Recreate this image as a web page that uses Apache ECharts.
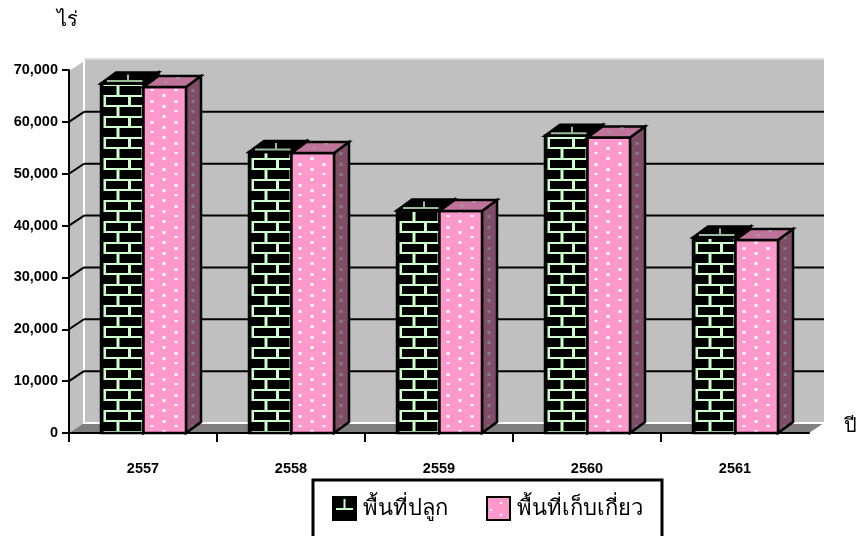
<!DOCTYPE html>
<html><head><meta charset="utf-8">
<style>html,body{margin:0;padding:0;background:#fff;overflow:hidden}#c{width:860px;height:536px}</style>
<script src="https://cdn.jsdelivr.net/npm/echarts@6/dist/echarts.min.js"></script>
</head><body><div id="c"></div>
<script>
const categories = ['2557','2558','2559','2560','2561'];
const plantedArea = [67400,54200,42900,57300,37700];
const harvestedArea = [66700,54000,42800,57000,37200];
const yTicks = [0,10000,20000,30000,40000,50000,60000,70000];
const seriesNames = ['พื้นที่ปลูก','พื้นที่เก็บเกี่ยว'];
const yUnit = 'ไร่';
const xUnit = 'ปี';

const DX = 15, DY = -10, BAR_W = 42.5;

function tile(w,h,draw){const c=document.createElement('canvas');c.width=w;c.height=h;draw(c.getContext('2d'));return {image:c,repeat:'repeat'};}
const brick = tile(25,21,g=>{
  g.fillStyle='#000';g.fillRect(0,0,25,21);
  g.fillStyle='#ccffcc';
  g.fillRect(0,8,25,2);g.fillRect(0,19,25,2);
  g.fillRect(15.5,10,3,9);
  g.fillRect(2,0,3,8);
});
const dots = tile(24,21,g=>{
  g.fillStyle='#ff99cc';g.fillRect(0,0,24,21);
  g.fillStyle='#fff';
  g.fillRect(7,3,3,3);g.fillRect(7,13,3,2);
  g.fillRect(19,18,3,3);g.fillRect(19,8,3,3);
});
const sideDots = tile(15,21,g=>{
  g.fillStyle='#804d66';g.fillRect(0,0,15,21);
  g.fillStyle='#808080';g.fillRect(3,3,3,3);g.fillRect(3,13,3,3);g.fillRect(12,8,2,3);g.fillRect(12,18,2,3);
});
const legendBrick = tile(23,23,g=>{
  g.fillStyle='#000';g.fillRect(0,0,23,23);
  g.fillStyle='#ccffcc';g.fillRect(3,11,17,2);g.fillRect(10.5,2,2,9);
});
const legendDots = tile(23,23,g=>{
  g.fillStyle='#ff99cc';g.fillRect(0,0,23,23);
  g.fillStyle='#fff';g.fillRect(13,5,2,2);g.fillRect(3,12,2,2);g.fillRect(13,17,2,2);
});

function poly(points,fill,extra){
  return {type:'polygon',shape:{points},style:Object.assign({fill,stroke:'#000',lineWidth:2.5,lineJoin:'miter'},extra||{})};
}
function barRender(isFirst){
  return function(params,api){
    const p0=api.coord([api.value(0),0]), p1=api.coord([api.value(0),api.value(1)]);
    const w=BAR_W, left=isFirst?p0[0]-w+0.5:p0[0]+0.5;
    const h=p0[1]-p1[1], dx=DX, dy=-11;
    const kids=[];
    if(isFirst){
      kids.push(poly([[w,0],[w+dx,dy],[w+dx,-h+dy],[w,-h]],'#000'));
      kids.push(poly([[0,0],[w,0],[w,-h],[0,-h]],brick));
      kids.push({type:'line',shape:{x1:1.5,y1:0,x2:1.5,y2:-h},style:{stroke:'#000',lineWidth:2}});
      kids.push(poly([[0,-h],[w,-h],[w+dx,-h+dy],[dx,-h+dy]],'#000'));
      kids.push({type:'line',shape:{x1:6,y1:-h-2.5,x2:w-1,y2:-h-2.5},style:{stroke:'#99bb99',lineWidth:2}});
      kids.push({type:'line',shape:{x1:27,y1:-h-9,x2:27,y2:-h-2.5},style:{stroke:'#99bb99',lineWidth:2}});
    }else{
      kids.push(poly([[w,0],[w+dx,dy],[w+dx,-h+dy],[w,-h]],sideDots));
      kids.push(poly([[0,0],[w,0],[w,-h],[0,-h]],dots));
      kids.push(poly([[0,-h],[w,-h],[w+dx,-h+dy],[dx,-h+dy]],'#c0739a'));
      kids.push({type:'rect',shape:{x:21,y:-h-6,width:3,height:2},style:{fill:'#a0a0a0'}});
      kids.push({type:'rect',shape:{x:33,y:-h-10,width:3,height:2},style:{fill:'#a0a0a0'}});
    }
    return {type:'group',x:left,y:p0[1],children:kids};
  };
}
function wallRender(params,api){
  const v=api.value(0);
  const a=api.coord([0,v]);
  const bandLeft=params.coordSys.x, right=params.coordSys.x+params.coordSys.width;
  const y=a[1], kids=[];
  if(params.dataIndex===0){
    const top=params.coordSys.y;
    kids.push({type:'polygon',shape:{points:[[bandLeft+DX,top+DY],[right+DX,top+DY],[right+DX,y+DY],[bandLeft+DX,y+DY]]},style:{fill:'#c0c0c0'}});
    kids.push({type:'polygon',shape:{points:[[bandLeft,top],[bandLeft+DX,top+DY],[bandLeft+DX,y+DY],[bandLeft,y]]},style:{fill:'#c0c0c0'}});
    kids.push({type:'polygon',shape:{points:[[bandLeft,y],[right,y],[right+DX,y+DY],[bandLeft+DX,y+DY]]},style:{fill:'#808080'}});
    kids.push({type:'polyline',shape:{points:[[bandLeft,top],[bandLeft+DX,top+DY],[bandLeft+DX,y+DY],[right+DX,y+DY]]},style:{fill:'none',stroke:'#fff',lineWidth:2}});
    kids.push({type:'line',shape:{x1:bandLeft+DX,y1:top+DY-1,x2:right+DX,y2:top+DY-1},style:{stroke:'#d0d0d0',lineWidth:1.5}});
  }else{
    if(v<yTicks[yTicks.length-1]) kids.push({type:'line',shape:{x1:bandLeft+DX,y1:y+DY,x2:right+DX,y2:y+DY},style:{stroke:'#000',lineWidth:2}});
    if(v<yTicks[yTicks.length-1]) kids.push({type:'line',shape:{x1:bandLeft,y1:y,x2:bandLeft+DX,y2:y+DY},style:{stroke:'#000',lineWidth:2}});
  }
  return {type:'group',children:kids};
}
function tickRender(params,api){
  const p=api.coord([api.value(0),0]);
  const x=p[0]-api.size([1,0])[0]/2;
  return {type:'line',shape:{x1:x,y1:p[1],x2:x,y2:p[1]+9},style:{stroke:'#000',lineWidth:2}};
}

const chart=echarts.init(document.getElementById('c'),null,{renderer:'canvas'});
const labelStyle={fontFamily:'Liberation Sans',fontWeight:'bold',fontSize:14.5,color:'#000'};
chart.setOption({
  animation:false,
  backgroundColor:'#fff',
  textStyle:{fontFamily:'Liberation Sans'},
  grid:{left:69,top:70,width:741,height:363},
  legend:{
    left:313,top:480,
    padding:[16,19,30,19],
    borderColor:'#000',borderWidth:3,
    itemWidth:23,itemHeight:23,itemGap:38,
    selectedMode:false,
    textStyle:{fontFamily:'Liberation Sans',fontSize:22,color:'#000',padding:[0,0,0,2]},
    data:[
      {name:seriesNames[0],icon:'rect',itemStyle:{color:legendBrick,borderColor:'#000',borderWidth:2}},
      {name:seriesNames[1],icon:'rect',itemStyle:{color:legendDots,borderColor:'#000',borderWidth:2}}
    ]
  },
  xAxis:{
    type:'category',data:categories,boundaryGap:true,
    name:xUnit,nameLocation:'end',nameGap:35,
    nameTextStyle:{fontFamily:'Liberation Sans',fontSize:20,lineHeight:14,color:'#000',verticalAlign:'bottom'},
    axisLine:{lineStyle:{color:'#000',width:2}},
    axisTick:{show:false},
    axisLabel:Object.assign({margin:28},labelStyle),
    splitLine:{show:false}
  },
  yAxis:{
    type:'value',min:0,max:70000,interval:10000,
    name:yUnit,nameLocation:'end',nameGap:40,
    nameTextStyle:{fontFamily:'Liberation Sans',fontSize:20,color:'#000',padding:[0,4,0,0]},
    axisLine:{show:true,lineStyle:{color:'#000',width:2}},
    axisTick:{show:true,length:7,lineStyle:{color:'#000',width:2}},
    axisLabel:Object.assign({margin:11,formatter:v=>v.toLocaleString('en-US')},labelStyle),
    splitLine:{show:false}
  },
  series:[
    {type:'custom',name:'wall',silent:true,z:0,coordinateSystem:'cartesian2d',renderItem:wallRender,clip:false,
      data:yTicks.map(v=>[v]),encode:{x:[],y:0}},
    {type:'custom',name:'xticks',silent:true,z:1,renderItem:tickRender,clip:false,
      data:categories.map((c,i)=>[i]),encode:{x:0}},
    {type:'custom',name:seriesNames[0],z:2,renderItem:barRender(true),clip:false,itemStyle:{color:legendBrick},
      data:categories.map((c,i)=>[i,plantedArea[i]]),encode:{x:0,y:1}},
    {type:'custom',name:seriesNames[1],z:3,renderItem:barRender(false),clip:false,itemStyle:{color:legendDots},
      data:categories.map((c,i)=>[i,harvestedArea[i]]),encode:{x:0,y:1}}
  ]
});
</script></body></html>
